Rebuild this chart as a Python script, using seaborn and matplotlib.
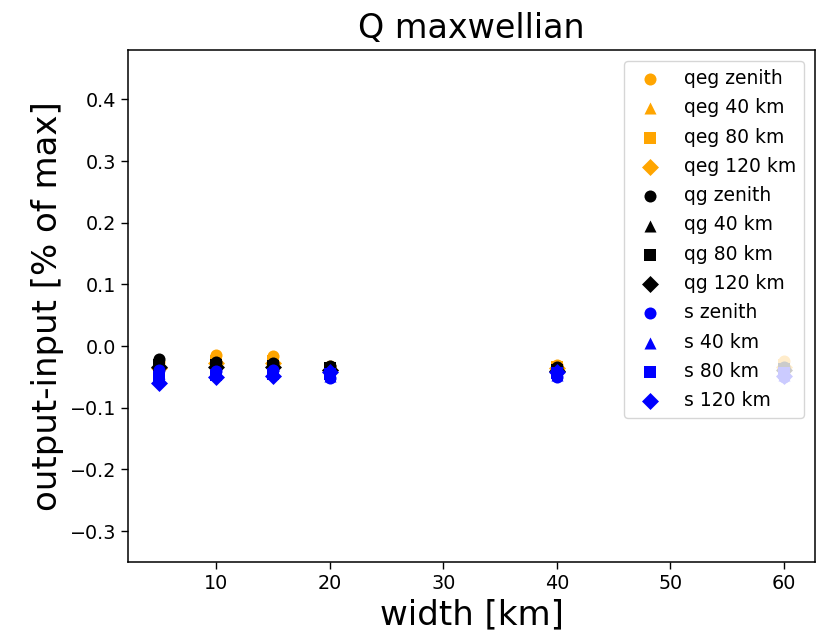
import matplotlib
matplotlib.use("Agg")
import matplotlib.pyplot as plt
import seaborn as sns
import pandas as pd

# Source widths [km]
widths = [5, 10, 15, 20, 40, 60]

# output-input [% of max] for each method / viewing geometry
qeg_zenith = [-0.025, -0.015, -0.016, -0.032, -0.030, -0.024]
qeg_40km = [-0.028, -0.020, -0.020, -0.034, -0.032, -0.027]
qeg_80km = [-0.032, -0.024, -0.024, -0.036, -0.034, -0.030]
qeg_120km = [-0.036, -0.028, -0.028, -0.038, -0.036, -0.033]

qg_zenith = [-0.021, -0.025, -0.028, -0.032, -0.034, -0.033]
qg_40km = [-0.025, -0.028, -0.030, -0.034, -0.036, -0.035]
qg_80km = [-0.030, -0.031, -0.032, -0.036, -0.038, -0.037]
qg_120km = [-0.034, -0.034, -0.034, -0.038, -0.040, -0.039]

s_zenith = [-0.038, -0.040, -0.038, -0.052, -0.050, -0.050]
s_40km = [-0.044, -0.044, -0.042, -0.048, -0.046, -0.046]
s_80km = [-0.050, -0.047, -0.045, -0.045, -0.044, -0.044]
s_120km = [-0.060, -0.050, -0.048, -0.042, -0.042, -0.048]

methods = ["qeg", "qg", "s"]
method_colors = {"qeg": "orange", "qg": "black", "s": "blue"}
geometries = ["zenith", "40 km", "80 km", "120 km"]
geometry_markers = {"zenith": "o", "40 km": "^", "80 km": "s", "120 km": "D"}

values = {
    ("qeg", "zenith"): qeg_zenith, ("qeg", "40 km"): qeg_40km,
    ("qeg", "80 km"): qeg_80km, ("qeg", "120 km"): qeg_120km,
    ("qg", "zenith"): qg_zenith, ("qg", "40 km"): qg_40km,
    ("qg", "80 km"): qg_80km, ("qg", "120 km"): qg_120km,
    ("s", "zenith"): s_zenith, ("s", "40 km"): s_40km,
    ("s", "80 km"): s_80km, ("s", "120 km"): s_120km,
}

fig = plt.figure(figsize=(8.16, 6.35), dpi=100)
ax = fig.add_axes([0.157, 0.115, 0.842, 0.806])

for m in methods:
    for g in geometries:
        df = pd.DataFrame({"width": widths, "diff": values[(m, g)]})
        sns.scatterplot(data=df, x="width", y="diff", ax=ax,
                        color=method_colors[m], marker=geometry_markers[g],
                        s=75, linewidth=0, label=f"{m} {g}")

ax.set_ylim(-0.35, 0.48)
ax.set_yticks([-0.3, -0.2, -0.1, 0.0, 0.1, 0.2, 0.3, 0.4])
ax.set_xticks([10, 20, 30, 40, 50, 60])
ax.tick_params(labelsize=13.8, length=5, width=1.0)
for sp in ax.spines.values():
    sp.set_linewidth(1.1)

ax.set_title("Q maxwellian", fontsize=24, pad=9)
ax.set_xlabel("width [km]", fontsize=24.5)
ax.set_ylabel("output-input [% of max]", fontsize=24.5)

ax.legend(loc="upper right", fontsize=13.5, framealpha=0.8,
          labelspacing=0.55, borderaxespad=0.6)

fig.savefig("out.png", dpi=100)
